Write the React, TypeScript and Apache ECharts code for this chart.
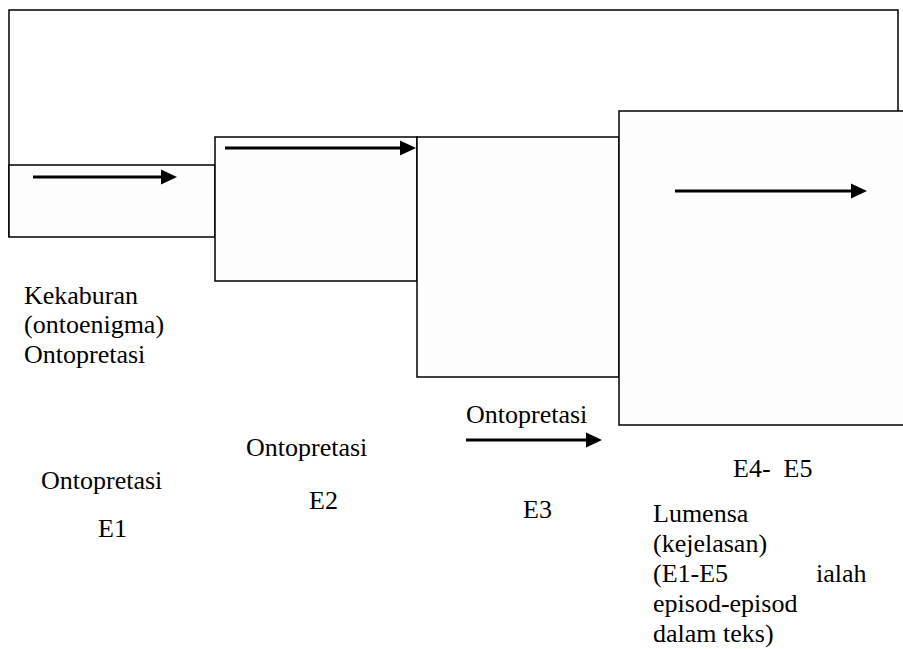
import React, { useEffect, useRef } from "react";
import * as echarts from "echarts";

// Diagram units equal the picture's pixels (x to the right, y downwards).
const frame: number[][] = [[9, 237], [9, 10], [898, 10], [898, 111]];

// Episode boxes: [left, top, right, bottom]
const boxes: number[][] = [
  [9, 165, 215, 237],
  [215, 137, 417, 281],
  [417, 137, 619, 377],
  [619, 111, 910, 425],
];

// Arrows: [startX, endX, y]
const arrows: number[][] = [
  [33, 177, 177],
  [225, 416, 148],
  [675, 867, 191],
  [466, 602, 440],
];

// Labels and their [left, middle y]
const labelTexts: string[] = [
  "Kekaburan",
  "(ontoenigma)",
  "Ontopretasi",
  "Ontopretasi",
  "E1",
  "Ontopretasi",
  "E2",
  "Ontopretasi",
  "E3",
  "E4-  E5",
  "Lumensa",
  "(kejelasan)",
  "(E1-E5",
  "ialah",
  "episod-episod",
  "dalam teks)",
];
const labelPos: number[][] = [
  [24, 295],
  [24, 324.5],
  [24, 354],
  [41, 480],
  [98, 528],
  [246, 447],
  [309, 500],
  [466, 414],
  [523, 509],
  [733, 468],
  [653, 513],
  [653, 543],
  [653, 573],
  [816, 573],
  [653, 603],
  [653, 633],
];

const FONT = "Liberation Serif";

export default function App() {
  const ref = useRef<HTMLDivElement>(null);
  useEffect(() => {
    if (!ref.current) return;
    const chart = echarts.init(ref.current, undefined, { renderer: "svg" });

    const texts: any[] = labelTexts.map((t, i) => ({
      type: "text",
      x: labelPos[i][0],
      y: labelPos[i][1],
      style: {
        text: t,
        fontSize: 26,
        fontFamily: FONT,
        fill: "#000",
        align: "left",
        verticalAlign: "middle",
      },
    }));

    const shapes: any[] = [];
    shapes.push({
      type: "polyline",
      shape: { points: frame },
      style: { fill: "none", stroke: "#000", lineWidth: 1.5 },
    });
    boxes.forEach((b) => {
      shapes.push({
        type: "rect",
        shape: { x: b[0], y: b[1], width: b[2] - b[0], height: b[3] - b[1] },
        style: { fill: "#fdfdfd", stroke: "#000", lineWidth: 1.5 },
      });
    });
    arrows.forEach((ar) => {
      shapes.push({
        type: "line",
        shape: { x1: ar[0], y1: ar[2], x2: ar[1] - 10, y2: ar[2] },
        style: { stroke: "#000", lineWidth: 3 },
      });
      shapes.push({
        type: "polygon",
        shape: {
          points: [
            [ar[1], ar[2]],
            [ar[1] - 16, ar[2] - 7.5],
            [ar[1] - 16, ar[2] + 7.5],
          ],
        },
        style: { fill: "#000" },
      });
    });

    chart.setOption({
      animation: false,
      graphic: [...shapes, ...texts],
    });
    return () => chart.dispose();
  }, []);
  return (
    <div
      ref={ref}
      style={{ position: "absolute", left: 0, top: 0, width: 903, height: 649 }}
    />
  );
}
